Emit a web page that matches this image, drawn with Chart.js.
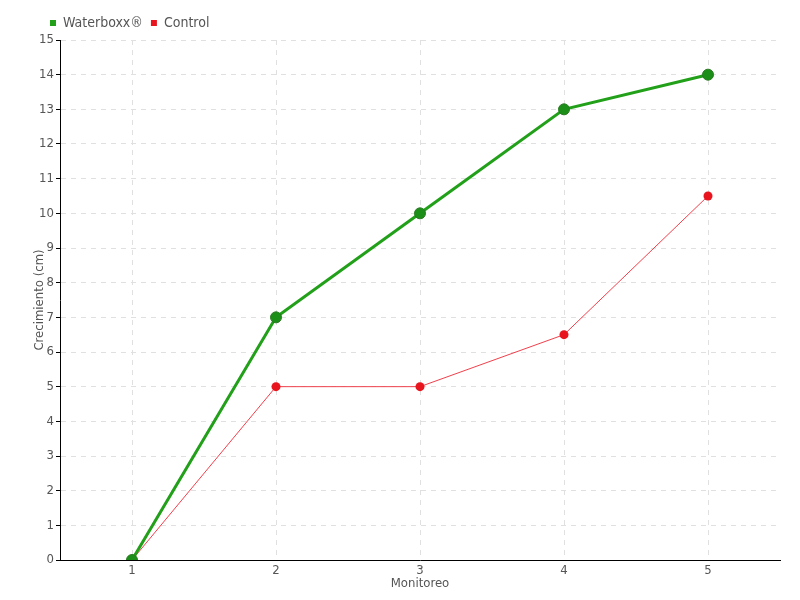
<!DOCTYPE html>
<html>
<head>
<meta charset="utf-8">
<script src="https://cdn.jsdelivr.net/npm/chart.js@4/dist/chart.umd.min.js"></script>
<style>
  html, body { margin: 0; padding: 0; background: #fff; }
  #wrap { width: 800px; height: 600px; }
</style>
</head>
<body>
<div id="wrap"><canvas id="growthChart" width="800" height="600"></canvas></div>
<script>
const monitoreo = ['1', '2', '3', '4', '5'];
const waterboxx = [0, 7, 10, 13, 14];
const control = [0, 5, 5, 6.5, 10.5];
const yTicks = [0, 15, 1]; // min, max, step

const FONT = "'Liberation Sans Narrow', 'DejaVu Sans Condensed', 'DejaVu Sans', sans-serif";
Chart.defaults.font.family = FONT;
Chart.defaults.font.size = 13;
Chart.defaults.color = '#555';

// pin the legend where the reference has it
const layoutFix = {
  id: 'layoutFix',
  beforeInit(chart) {
    const fit = chart.legend.fit;
    chart.legend.fit = function() {
      fit.call(this);
      this.height = 40;
    };
  },
  afterLayout(chart) {
    chart.legend.left = 42;
    chart.legend.top = 8;
  }
};

const ctx = document.getElementById('growthChart').getContext('2d');
new Chart(ctx, {
  type: 'line',
  data: {
    labels: monitoreo,
    datasets: [{
      label: 'Waterboxx®',
      data: waterboxx,
      borderColor: '#22a01a',
      backgroundColor: '#1c8f18',
      borderWidth: 3,
      pointRadius: 5.5,
      pointBorderWidth: 1,
      pointBorderColor: '#2a7a22',
      tension: 0
    }, {
      label: 'Control',
      data: control,
      borderColor: '#f0404c',
      backgroundColor: '#e8141e',
      borderWidth: 1,
      pointRadius: 4.5,
      pointBorderWidth: 0,
      tension: 0
    }]
  },
  options: {
    responsive: false,
    animation: false,
    layout: { padding: { left: 30, right: 20, top: 0, bottom: 0 } },
    plugins: {
      tooltip: { enabled: false },
      legend: {
        position: 'top',
        align: 'start',
        labels: {
          boxWidth: 6,
          boxHeight: 6,
          padding: 8,
          color: '#555',
          font: { size: 14 },
          generateLabels(chart) {
            return chart.data.datasets.map((ds, i) => ({
              text: ds.label,
              fillStyle: i === 0 ? '#22a01a' : '#e8141e',
              strokeStyle: 'transparent',
              lineWidth: 0,
              fontColor: '#555',
              datasetIndex: i
            }));
          }
        }
      }
    },
    scales: {
      x: {
        offset: true,
        grid: {
          offset: false,
          color: '#e0e0e0',
          drawTicks: false
        },
        border: { display: true, color: '#000', width: 1, dash: [5, 5] },
        ticks: { padding: 3, color: '#555' },
        title: { display: true, text: 'Monitoreo', color: '#555', padding: { top: 0, bottom: 9 } },
        afterFit(scale) { scale.height = 40; }
      },
      y: {
        min: yTicks[0],
        max: yTicks[1],
        ticks: { stepSize: yTicks[2], padding: 2, color: '#555' },
        grid: {
          color: '#e0e0e0',
          tickColor: '#000',
          tickLength: 4,
          tickBorderDash: []
        },
        border: { display: true, color: '#000', width: 1, dash: [5, 5] },
        title: { display: true, text: 'Crecimiento (cm)', color: '#555', padding: { top: 2, bottom: 0 } },
        afterFit(scale) { scale.width = 30; }
      }
    }
  },
  plugins: [layoutFix]
});
</script>
</body>
</html>
